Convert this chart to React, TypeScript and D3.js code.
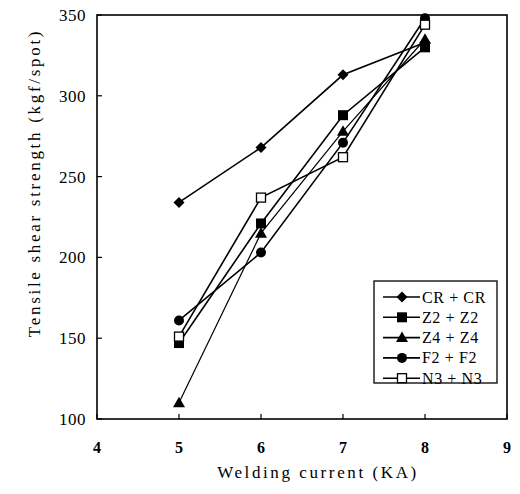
import React from "react";
import * as d3 from "d3";

const currents = [5, 6, 7, 8];
const seriesNames = ["CR+CR", "Z2+Z2", "Z4+Z4", "F2+F2", "N3+N3"];
const legendLabels = ["CR + CR", "Z2 + Z2", "Z4 + Z4", "F2 + F2", "N3 + N3"];
const crValues = [234, 268, 313, 333];
const z2Values = [147, 221, 288, 330];
const z4Values = [110, 215, 278, 335];
const f2Values = [161, 203, 271, 348];
const n3Values = [151, 237, 262, 344];
const markers = ["diamond", "square", "triangle", "circle", "openSquare"];
const xTicks = [4, 5, 6, 7, 8, 9];
const yTicks = [100, 150, 200, 250, 300, 350];

const allValues = [crValues, z2Values, z4Values, f2Values, n3Values];

const W = 520, H = 494;
const left = 97, right = 507, top = 15, bottom = 419;

function Marker({ kind, x, y }: { kind: string; x: number; y: number }) {
  if (kind === "diamond") {
    const s = 5.5;
    return <path d={`M${x},${y - s}L${x + s},${y}L${x},${y + s}L${x - s},${y}Z`} fill="#000" />;
  }
  if (kind === "square") return <rect x={x - 5} y={y - 5} width={10} height={10} fill="#000" />;
  if (kind === "triangle") {
    const s = 6;
    return <path d={`M${x},${y - s}L${x + s},${y + s * 0.75}L${x - s},${y + s * 0.75}Z`} fill="#000" />;
  }
  if (kind === "circle") return <circle cx={x} cy={y} r={5} fill="#000" />;
  return <rect x={x - 4.5} y={y - 4.5} width={9} height={9} fill="#fff" stroke="#000" strokeWidth={1.3} />;
}

export default function App() {
  const x = d3.scaleLinear().domain([4, 9]).range([left, right]);
  const y = d3.scaleLinear().domain([100, 350]).range([bottom, top]);
  const line = d3.line<number>().x((_, i) => x(currents[i])).y((d) => y(d));
  const font = "'Liberation Serif', 'Times New Roman', serif";
  const legX = 374, legY = 281, legW = 123, legH = 102, rowH = 20.3;
  return (
    <svg width={W} height={H} style={{ position: "absolute", left: 0, top: 0, background: "#fff" }}>
      <rect x={0} y={0} width={W} height={H} fill="#fff" />
      <rect x={left} y={top} width={right - left} height={bottom - top} fill="none" stroke="#000" strokeWidth={1.6} />
      {xTicks.map((t) => (
        <g key={"x" + t}>
          <line x1={x(t)} x2={x(t)} y1={bottom} y2={bottom - 5} stroke="#000" strokeWidth={1.2} />
          <text x={x(t)} y={453} textAnchor="middle" fontFamily={font} fontSize={16} fontWeight="bold">{t}</text>
        </g>
      ))}
      {yTicks.map((t) => (
        <g key={"y" + t}>
          <line x1={left} x2={left + 5} y1={y(t)} y2={y(t)} stroke="#000" strokeWidth={1.2} />
          <text x={86} y={y(t) + 6} textAnchor="end" fontFamily={font} fontSize={17} letterSpacing={0.5}>{t}</text>
        </g>
      ))}
      <text x={318} y={478} textAnchor="middle" fontFamily={font} fontSize={17} letterSpacing={2.6}>Welding current (KA)</text>
      <text transform={`translate(40,183) rotate(-90)`} textAnchor="middle" fontFamily={font} fontSize={17} letterSpacing={2.7}>
        Tensile shear strength (kgf/spot)
      </text>
      {allValues.map((vals, si) => (
        <g key={seriesNames[si]}>
          <path d={line(vals) || ""} fill="none" stroke="#000" strokeWidth={si === 2 ? 1.2 : 1.6} />
        </g>
      ))}
      {allValues.map((vals, si) => (
        <g key={"m" + seriesNames[si]}>
          {vals.map((v, i) => (
            <Marker key={i} kind={markers[si]} x={x(currents[i])} y={y(v)} />
          ))}
        </g>
      ))}
      <rect x={legX} y={legY} width={legW} height={legH} fill="#fff" stroke="#000" strokeWidth={1.3} />
      {legendLabels.map((lab, i) => {
        const cy = legY + 16 + i * rowH;
        return (
          <g key={lab}>
            <line x1={383} x2={420} y1={cy} y2={cy} stroke="#000" strokeWidth={1.6} />
            <Marker kind={markers[i]} x={402} y={cy} />
            <text x={422} y={cy + 5.5} fontFamily={font} fontSize={16} letterSpacing={0.6}>{lab}</text>
          </g>
        );
      })}
    </svg>
  );
}
